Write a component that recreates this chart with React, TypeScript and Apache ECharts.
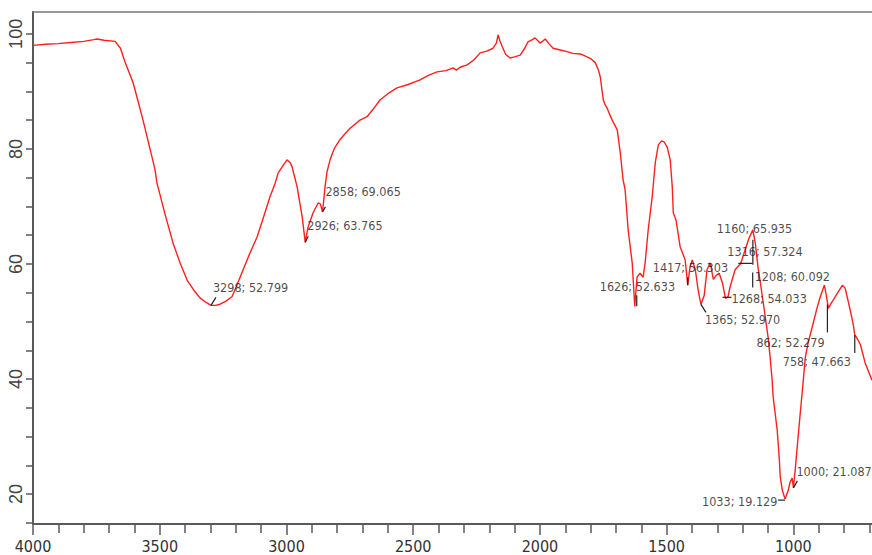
import React, { useEffect, useRef } from "react";
import * as echarts from "echarts";

// FTIR transmittance spectrum: wavenumber (cm-1) and transmittance (%)
const wavenumbers = [
  4000, 3950, 3900, 3850, 3800, 3760, 3747, 3720, 3676, 3655, 3637, 3620, 3605, 3585, 3566,
  3540, 3519, 3511, 3480, 3448, 3420, 3392, 3365, 3341, 3320, 3298, 3280, 3262, 3240, 3215,
  3195, 3171, 3145, 3116, 3090, 3065, 3045, 3033, 3015, 2998, 2985, 2978, 2958, 2938, 2926,
  2915, 2895, 2875, 2866, 2858, 2852, 2848, 2840, 2828, 2810, 2789, 2770, 2749, 2710, 2682,
  2660, 2631, 2600, 2564, 2520, 2473, 2440, 2406, 2370, 2343, 2330, 2315, 2287, 2260, 2236,
  2210, 2185, 2172, 2165, 2158, 2149, 2135, 2118, 2100, 2078, 2060, 2047, 2030, 2019, 2008,
  2000, 1990, 1979, 1965, 1948, 1920, 1893, 1870, 1841, 1829, 1800, 1782, 1770, 1762, 1750,
  1742, 1735, 1725, 1715, 1695, 1683, 1672, 1664, 1652, 1636, 1626, 1617, 1605, 1593, 1585,
  1573, 1557, 1545, 1533, 1520, 1510, 1498, 1486, 1478, 1474, 1463, 1447, 1427, 1417, 1408,
  1399, 1387, 1376, 1365, 1352, 1341, 1328, 1316, 1305, 1293, 1280, 1268, 1258, 1250, 1230,
  1208, 1190, 1175, 1160, 1150, 1140, 1128, 1115, 1100, 1092, 1084, 1080, 1064, 1056, 1052,
  1044, 1033, 1020, 1013, 1005, 1000, 993, 985, 973, 961, 953, 942, 926, 906, 894,
  878, 870, 862, 851, 843, 827, 807, 796, 776, 764, 758, 748, 736, 717, 690,
];

const transmittance = [
  98.0, 98.2, 98.3, 98.5, 98.7, 99.0, 99.1, 98.9, 98.7, 97.5, 95.1, 93.2, 91.5, 88.2, 85.0,
  80.3, 76.5, 74.1, 68.8, 63.7, 60.2, 57.2, 55.4, 54.1, 53.4, 52.799, 52.8, 53.0, 53.5, 54.3,
  56.4, 59.0, 61.8, 64.7, 68.2, 71.7, 74.0, 75.8, 77.0, 78.1, 77.6, 76.9, 73.4, 68.2, 63.765,
  66.4, 68.9, 70.6, 70.4, 69.065, 71.5, 73.4, 76.0, 78.1, 80.2, 81.6, 82.6, 83.6, 85.0, 85.6,
  86.8, 88.5, 89.6, 90.6, 91.2, 92.0, 92.8, 93.4, 93.6, 94.1, 93.7, 94.2, 94.6, 95.5, 96.7,
  97.0, 97.5, 98.4, 99.8, 98.8, 97.8, 96.4, 95.8, 96.0, 96.3, 97.5, 98.6, 99.0, 99.3, 98.8,
  98.4, 98.7, 99.1, 98.3, 97.5, 97.2, 96.9, 96.6, 96.5, 96.3, 95.7, 95.0, 93.8, 92.5, 88.5,
  87.6, 87.1, 86.0, 85.0, 83.3, 79.3, 74.6, 72.9, 65.9, 60.2, 52.633, 57.7, 58.4, 57.7, 60.2,
  65.9, 71.7, 77.6, 80.7, 81.4, 81.2, 80.3, 78.1, 73.4, 68.9, 67.6, 63.0, 60.7, 56.303, 59.5,
  60.7, 59.0, 55.5, 52.970, 54.5, 59.0, 60.2, 57.324, 58.0, 58.4, 56.7, 54.033, 54.3, 56.0, 59.0,
  60.092, 62.5, 64.5, 65.935, 63.5, 59.5, 56.0, 52.0, 47.3, 43.8, 39.8, 36.9, 31.1, 26.3, 23.0,
  20.7, 19.129, 20.7, 22.1, 22.8, 21.087, 24.2, 28.2, 34.1, 39.8, 43.8, 46.3, 49.0, 52.5, 54.3,
  56.3, 54.5, 52.279, 53.2, 53.7, 54.9, 56.3, 55.8, 52.0, 49.5, 47.663, 47.0, 46.0, 42.8, 39.8,
];

// Annotated peaks
const peakWavenumbers = [3298, 2926, 2858, 1626, 1417, 1365, 1160, 1316, 1208, 1268, 862, 758, 1033, 1000];
const peakValues = [52.799, 63.765, 69.065, 52.633, 56.303, 52.970, 65.935, 57.324, 60.092, 54.033, 52.279, 47.663, 19.129, 21.087];

// Tick values
const majorTicks = [4000, 3500, 3000, 2500, 2000, 1500, 1000];
const yLabels = [20, 40, 60, 80, 100];

// Label placement (px from the peak point) and leader segments (px, relative to the peak point)
const labelOffsets: number[][] = [
  [2, -18], [2, -17], [3, -20], [-35, -20], [-35, -18], [4, 15], [-36, -1],
  [14, -28], [14, 13], [6, 0], [-72, 34], [-72, 27], [-83, 2], [3, -16],
];
const leaders: number[][] = [
  [0, 0, 5, -8], [0, 0, 3, -6], [0, 0, 3, -5], [2, 0, 2, -11], [0, 0, 0, -8], [0, 0, 5, 8],
  [0, 10, 0, 35], [25, -16, 39, -16], [12, 9, 12, 24], [-3, -1, 6, -1], [-1, -4, -1, 24],
  [0, 0, 0, 18], [-7, 1, 0, 1], [0, 0, 4, -7],
];

const XMIN = 690;
const XMAX = 4000;
const YMIN = 14.8;
const YMAX = 103.8;

const narrow = "'Liberation Sans Narrow', 'DejaVu Sans Condensed', 'Liberation Sans', sans-serif";
const axisColor = "#5a5a5a";

const minorTicks: number[] = [];
for (let v = 700; v <= 4000; v += 100) {
  if (v % 500 !== 0) minorTicks.push(v);
}
const yTicks: number[] = [];
for (let v = 15; v <= 100; v += 5) yTicks.push(v);

export default function App() {
  const ref = useRef<HTMLDivElement>(null);

  useEffect(() => {
    if (!ref.current) return;
    const chart = echarts.init(ref.current, null, { renderer: "svg" });

    const spectrum = wavenumbers.map((w, i) => [w, transmittance[i]]);
    const peaks = peakWavenumbers.map((w, i) => ({
      value: [w, peakValues[i]],
      label: { position: labelOffsets[i] },
    }));

    chart.setOption({
      animation: false,
      backgroundColor: "#ffffff",
      grid: { left: 33, right: 0, top: 12, bottom: 31, containLabel: false },
      xAxis: [
        {
          type: "value",
          min: XMIN,
          max: XMAX,
          inverse: true,
          position: "bottom",
          axisLine: { show: true, lineStyle: { color: axisColor, width: 2 } },
          axisTick: { show: true, customValues: majorTicks, length: 11, lineStyle: { color: axisColor, width: 1.5 } },
          axisLabel: {
            customValues: majorTicks,
            formatter: (v: number) => String(v),
            fontFamily: narrow,
            fontSize: 16,
            color: "#333",
            margin: 14,
          },
          splitLine: { show: false },
        },
        {
          type: "value",
          min: XMIN,
          max: XMAX,
          inverse: true,
          position: "bottom",
          axisLine: { show: false },
          axisTick: { show: true, customValues: minorTicks, length: 9, lineStyle: { color: axisColor, width: 1.5 } },
          axisLabel: { show: false },
          splitLine: { show: false },
        },
        {
          type: "value",
          min: XMIN,
          max: XMAX,
          inverse: true,
          position: "top",
          axisLine: { show: true, lineStyle: { color: "#777", width: 1.5 } },
          axisTick: { show: false },
          axisLabel: { show: false },
          splitLine: { show: false },
        },
      ],
      yAxis: {
        type: "value",
        min: YMIN,
        max: YMAX,
        axisLine: { show: true, lineStyle: { color: axisColor, width: 2 } },
        axisTick: { show: true, customValues: yTicks, length: 7, lineStyle: { color: axisColor, width: 1.5 } },
        axisLabel: {
          customValues: yLabels,
          formatter: (v: number) => String(v),
          rotate: 90,
          fontFamily: "'Liberation Sans', Arial, sans-serif",
          fontSize: 18,
          color: "#444",
          margin: 8,
        },
        splitLine: { show: false },
      },
      series: [
        {
          type: "line",
          data: spectrum,
          showSymbol: false,
          symbol: "none",
          lineStyle: { color: "#ff1f1f", width: 1.4 },
          silent: true,
          z: 2,
        },
        {
          type: "scatter",
          data: peaks,
          symbolSize: 0,
          silent: true,
          z: 3,
          label: {
            show: true,
            formatter: (p: any) => `${p.value[0]}; ${p.value[1].toFixed(3)}`,
            fontFamily: narrow,
            fontSize: 12.5,
            color: "#1a1a1a",
            align: "left",
            verticalAlign: "middle",
          },
        },
      ],
    });

    // Leader lines from each annotated peak toward its label
    const lines = peakWavenumbers.map((w, i) => {
      const [px, py] = chart.convertToPixel({ xAxisIndex: 0, yAxisIndex: 0 }, [w, peakValues[i]]) as number[];
      const l = leaders[i];
      return {
        type: "line",
        silent: true,
        z: 10,
        shape: { x1: px + l[0], y1: py + l[1], x2: px + l[2], y2: py + l[3] },
        style: { stroke: "#222", lineWidth: 1.2 },
      };
    });
    chart.setOption({ graphic: lines });

    return () => chart.dispose();
  }, []);

  return (
    <div
      ref={ref}
      style={{ position: "fixed", left: 0, top: 0, width: 872, height: 555, background: "#fff" }}
    />
  );
}
